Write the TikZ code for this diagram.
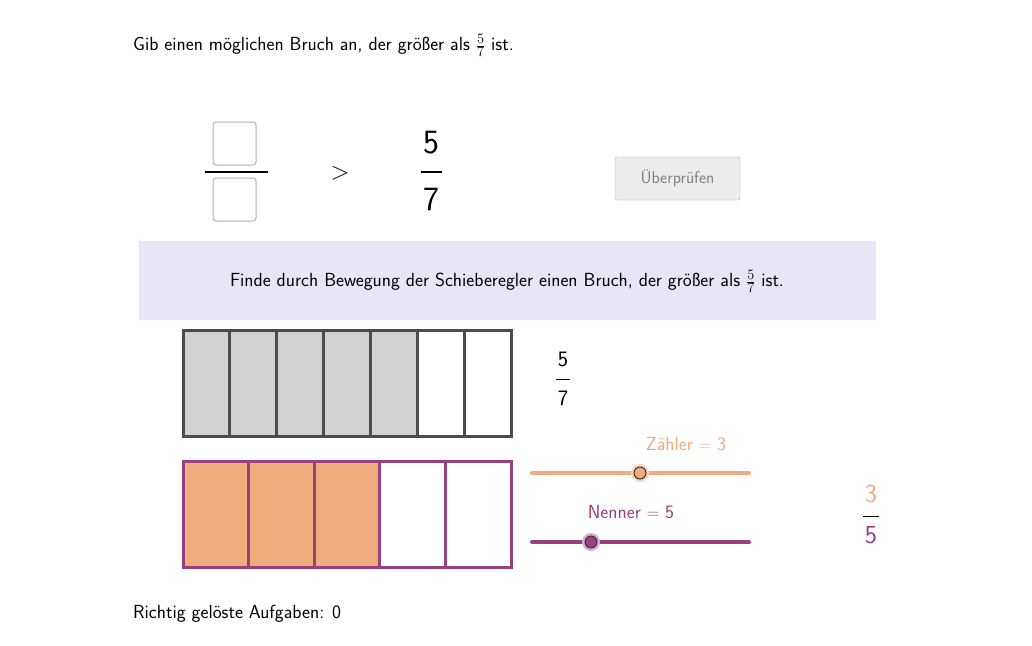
\documentclass[tikz,border=0pt]{standalone}
\usepackage{fontspec}
\renewcommand{\familydefault}{\sfdefault}
\begin{document}
\begin{tikzpicture}[x=1pt,y=-1pt,
  txt/.style={font=\fontsize{19}{22}\selectfont,inner sep=0,anchor=west},
  inbox/.style={draw=gray!60,rounded corners=3pt,line width=1pt,fill=white},
  cellg/.style={draw=black!70,line width=3pt},
  cellp/.style={draw=pur,line width=3pt}]
\definecolor{org}{HTML}{F2AB7C}
\definecolor{pur}{HTML}{99407E}
\definecolor{lav}{HTML}{E9E5F6}
\useasboundingbox (0,0) rectangle (1032,645);
\node[txt] (q) at (133,45) {Gib einen möglichen Bruch an, der größer als $\frac{5}{7}$ ist.};
\node[inbox,minimum width=43,minimum height=43] (n1) at (234.5,143.5) {};
\node[inbox,minimum width=43,minimum height=43] (n2) at (234.5,199.5) {};
\draw[line width=2pt] (205,172) -- (268,172);
\node[font=\fontsize{36}{40}\selectfont] (gt) at (340,173) {$>$};
\node[font=\fontsize{34}{38}\selectfont] (f5) at (431,143) {5};
\node[font=\fontsize{34}{38}\selectfont] (f7) at (431,199) {7};
\draw[line width=1.5pt] (421,172) -- (442,172);
\node[draw=gray!70,fill=gray!15,rounded corners=2pt,minimum width=125,minimum height=43,text=gray,font=\fontsize{17}{20}\selectfont] (btn) at (677.5,178.5) {Überprüfen};
\fill[lav] (139,241) rectangle (876,320);
\node[txt,anchor=center] (hint) at (507,281) {Finde durch Bewegung der Schieberegler einen Bruch, der größer als $\frac{5}{7}$ ist.};
% gray bar
\foreach \i in {0,...,6}{
  \pgfmathsetmacro\xa{183+\i*328/7}\pgfmathsetmacro\xb{183+(\i+1)*328/7}
  \ifnum\i<5 \fill[black!18] (\xa,330) rectangle (\xb,436);\fi
  \draw[cellg] (\xa,330) rectangle (\xb,436);}
\node[font=\fontsize{22}{26}\selectfont] (g5) at (563,359) {5};
\node[font=\fontsize{22}{26}\selectfont] (g7) at (563,398) {7};
\draw[line width=1pt] (556,379) -- (570,379);
% purple bar
\foreach \i in {0,...,4}{
  \pgfmathsetmacro\xa{183+\i*328/5}\pgfmathsetmacro\xb{183+(\i+1)*328/5}
  \ifnum\i<3 \fill[org] (\xa,461) rectangle (\xb,567);\fi
  \draw[cellp] (\xa,461) rectangle (\xb,567);}
% sliders
\draw[org,line width=4pt,line cap=round] (532,473) -- (749,473);
\fill[org!50] (640,473) circle (9);
\node[circle,draw=black!80,fill=org,inner sep=0,minimum size=12,line width=1pt] (sz) at (640,473) {};
\node[txt,anchor=center,text=org] (lz) at (686,444) {Zähler $=$ 3};
\draw[pur,line width=4pt,line cap=round] (532,542) -- (749,542);
\fill[pur!40] (591,542) circle (9);
\node[circle,draw=black!80,fill=pur,inner sep=0,minimum size=12,line width=1pt] (sn) at (591,542) {};
\node[txt,anchor=center,text=pur] (ln) at (631,512) {Nenner $=$ 5};
\node[font=\fontsize{26}{30}\selectfont,text=org] (r3) at (871,494) {3};
\node[font=\fontsize{26}{30}\selectfont,text=pur] (r5) at (871,535) {5};
\draw[line width=1pt] (863,516) -- (879,516);
\node[txt] (rg) at (133,614) {Richtig gelöste Aufgaben: 0};
\end{tikzpicture}
\end{document}
